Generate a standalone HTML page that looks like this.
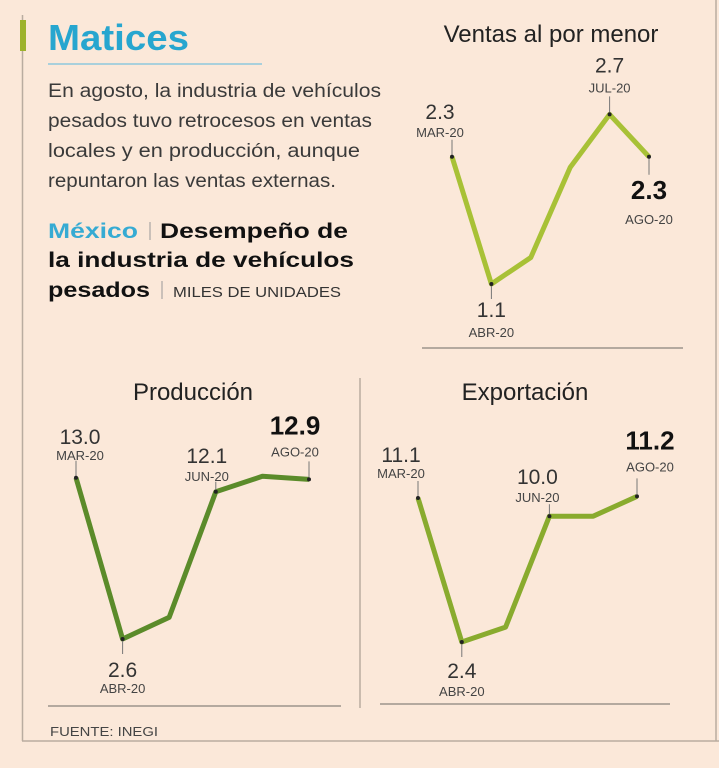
<!DOCTYPE html>
<html><head><meta charset="utf-8"><style>
html,body{margin:0;padding:0;background:#fbe8d9;}
svg{display:block;font-family:"Liberation Sans",sans-serif;}
</style></head><body>
<svg id="root" width="719" height="768" viewBox="0 0 719 768" xmlns="http://www.w3.org/2000/svg">
<rect x="0" y="0" width="719" height="768" fill="#fbe8d9"/>
<line x1="22.5" y1="15" x2="22.5" y2="741" stroke="#b9aca0" stroke-width="1.5"/>
<rect x="20" y="20" width="6" height="31" fill="#9db22c"/>
<line x1="716" y1="0" x2="716" y2="741" stroke="#b9aca0" stroke-width="1.5"/>
<line x1="22" y1="741" x2="719" y2="741" stroke="#b9aca0" stroke-width="1.5"/>
<text x="48" y="50" font-size="36" font-weight="bold" fill="#27a6cf" textLength="141" lengthAdjust="spacingAndGlyphs">Matices</text>
<line x1="48" y1="64" x2="262" y2="64" stroke="#8ec8de" stroke-width="1.5"/>
<g font-size="19" fill="#3a3a3a">
<text x="48" y="97" textLength="333" lengthAdjust="spacingAndGlyphs">En agosto, la industria de vehículos</text>
<text x="48" y="127" textLength="324" lengthAdjust="spacingAndGlyphs">pesados tuvo retrocesos en ventas</text>
<text x="48" y="157" textLength="312" lengthAdjust="spacingAndGlyphs">locales y en producción, aunque</text>
<text x="48" y="187" textLength="288" lengthAdjust="spacingAndGlyphs">repuntaron las ventas externas.</text>
</g>
<g font-size="21" font-weight="bold" fill="#111">
<text x="48" y="238" fill="#36abd3" textLength="90" lengthAdjust="spacingAndGlyphs">México</text>
<line x1="150" y1="222" x2="150" y2="240" stroke="#999" stroke-width="1"/>
<text x="160" y="238" textLength="188" lengthAdjust="spacingAndGlyphs">Desempeño de</text>
<text x="48" y="267" textLength="306" lengthAdjust="spacingAndGlyphs">la industria de vehículos</text>
<text x="48" y="297" textLength="102" lengthAdjust="spacingAndGlyphs">pesados</text>
<line x1="162" y1="281" x2="162" y2="299" stroke="#999" stroke-width="1"/>
<text x="173" y="297" font-size="15" font-weight="normal" fill="#333" textLength="168" lengthAdjust="spacingAndGlyphs">MILES DE UNIDADES</text>
</g>
<line x1="360" y1="378" x2="360" y2="708" stroke="#b9aca0" stroke-width="1.5"/>
<text x="50" y="736" font-size="13" fill="#444" textLength="108" lengthAdjust="spacingAndGlyphs">FUENTE: INEGI</text>
<g id="charts"></g>
</svg>
<script>
const months = ["MAR-20","ABR-20","MAY-20","JUN-20","JUL-20","AGO-20"];
const ventasValues = [2.3, 1.1, 1.35, 2.2, 2.7, 2.3];
const produccionValues = [13.0, 2.6, 4.0, 12.1, 13.1, 12.9];
const exportacionValues = [11.1, 2.4, 3.3, 10.0, 10.0, 11.2];
const ventasLabeled = [0, 1, 4, 5];
const produccionLabeled = [0, 1, 3, 5];
const exportacionLabeled = [0, 1, 3, 5];

const NS = "http://www.w3.org/2000/svg";
const root = document.getElementById("charts");
function mk(tag, attrs, parent){
  const e = document.createElementNS(NS, tag);
  for (const k in attrs) e.setAttribute(k, attrs[k]);
  (parent||root).appendChild(e);
  return e;
}
function drawChart(cfg, values, labeled){
  const g = mk("g", {});
  
  
  const t = mk("text", {x: cfg.titleX, y: cfg.titleY, "font-size": 24, fill: "#222", "text-anchor": "middle"}, g);
  t.textContent = cfg.title;
  
  
  const ax = mk("line", {x1: cfg.axX0, x2: cfg.axX1, y1: cfg.axY, y2: cfg.axY, stroke: "#9c948c", "stroke-width": 1.5}, g);
  
  
  const xs = i => cfg.x0 + i * cfg.dx;
  const ys = v => cfg.yRef - (v - cfg.vRef) * cfg.k;
  const pts = values.map((v, i) => xs(i).toFixed(1) + "," + ys(v).toFixed(1)).join(" ");
  const line = mk("polyline", {points: pts, fill: "none", stroke: cfg.color, "stroke-width": 5, "stroke-linejoin": "round"}, g);
  
  
  labeled.forEach((i, j) => {
    const px = xs(i), py = ys(values[i]);
    const o = cfg.labels[j];
    const last = i === values.length - 1;
    const tick = mk("line", {x1: px, x2: px, y1: py, y2: o.below ? py + o.tick : py - o.tick, stroke: "#777", "stroke-width": 1}, g);
    
    
    const dot = mk("circle", {cx: px, cy: py, r: 2, fill: "#222"}, g);
    
    
    const vt = mk("text", {x: px + o.dx, y: py + o.vy, "text-anchor": "middle", "font-size": last ? 26 : 21, "font-weight": last ? "bold" : "normal", fill: last ? "#111" : "#333"}, g);
    vt.textContent = values[i].toFixed(1);
    
    
    const mt = mk("text", {x: px + o.dx, y: py + o.my, "text-anchor": "middle", "font-size": 13, fill: "#444"}, g);
    mt.textContent = months[i];
    
    
  });
}
drawChart({name:"ventas-chart", title:"Ventas al por menor", titleX:551, titleY:42, axX0:422, axX1:683, axY:348,
  x0:452, dx:39.4, yRef:284, vRef:1.1, k:106, color:"#a8c136",
  labels:[{dx:-12,vy:-38,my:-20,tick:17},{dx:0,vy:33,my:53,tick:15,below:true},{dx:0,vy:-42,my:-22,tick:18},{dx:0,vy:42,my:67,tick:18,below:true}]},
  ventasValues, ventasLabeled);
drawChart({name:"produccion-chart", title:"Producción", titleX:193, titleY:400, axX0:48, axX1:341, axY:706,
  x0:76, dx:46.6, yRef:639, vRef:2.6, k:15.5, color:"#5b8b2a",
  labels:[{dx:4,vy:-34,my:-18,tick:17},{dx:0,vy:38,my:54,tick:15,below:true},{dx:-9,vy:-29,my:-11,tick:10},{dx:-14,vy:-45,my:-23,tick:18}]},
  produccionValues, produccionLabeled);
drawChart({name:"exportacion-chart", title:"Exportación", titleX:525, titleY:400, axX0:380, axX1:670, axY:704,
  x0:418, dx:43.8, yRef:642, vRef:2.4, k:16.55, color:"#89ab2e",
  labels:[{dx:-17,vy:-36,my:-20,tick:17},{dx:0,vy:36,my:54,tick:15,below:true},{dx:-12,vy:-32,my:-14,tick:12},{dx:13,vy:-47,my:-25,tick:18}]},
  exportacionValues, exportacionLabeled);
</script>
</body></html>
